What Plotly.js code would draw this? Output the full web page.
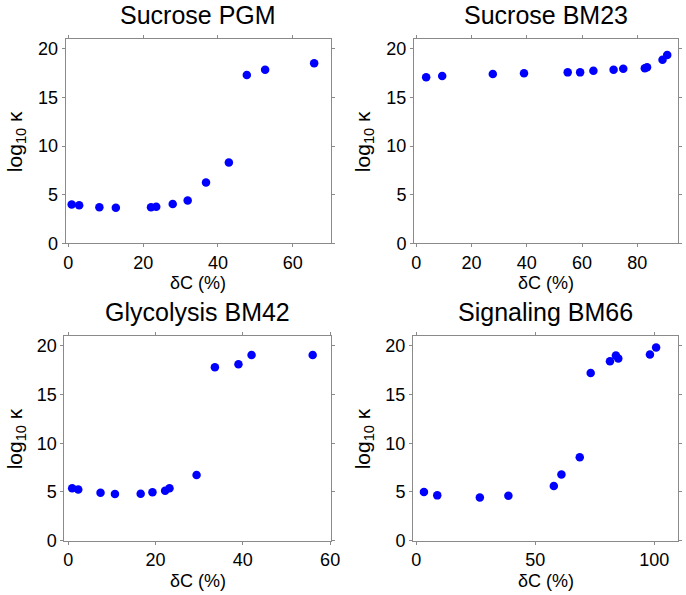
<!DOCTYPE html>
<html>
<head>
<meta charset="utf-8">
<script src="https://cdn.plot.ly/plotly-3.0.1.min.js"></script>
<style>html,body{margin:0;padding:0;background:#fff}#chart{width:686px;height:595px}</style>
</head>
<body>
<div id="chart"></div>
<script>
// Panel titles
const panelTitles = ["Sucrose PGM", "Sucrose BM23", "Glycolysis BM42", "Signaling BM66"];
const xLabel = "δC (%)";
const yLabel = "log<sub>10</sub> κ";

// Sucrose PGM
const pgmX = [0.9, 2.9, 8.3, 12.7, 22.1, 23.5, 27.9, 31.9, 36.8, 42.9, 47.7, 52.6, 65.7];
const pgmY = [4.0, 3.9, 3.7, 3.66, 3.7, 3.76, 4.03, 4.4, 6.26, 8.3, 17.3, 17.85, 18.5];

// Sucrose BM23
const bm23X = [3.6, 9.4, 27.7, 39.0, 54.8, 59.3, 64.1, 71.4, 74.9, 82.7, 83.5, 89.1, 90.8];
const bm23Y = [17.06, 17.2, 17.4, 17.47, 17.57, 17.57, 17.74, 17.85, 17.95, 18.0, 18.1, 18.87, 19.35];

// Glycolysis BM42
const bm42X = [0.9, 2.3, 7.4, 10.7, 16.6, 19.3, 22.2, 23.2, 29.4, 33.6, 39.0, 42.0, 56.0];
const bm42Y = [5.37, 5.26, 4.92, 4.79, 4.82, 4.96, 5.13, 5.37, 6.74, 17.8, 18.1, 19.04, 19.04];

// Signaling BM66
const bm66X = [3.2, 8.8, 26.7, 38.7, 57.8, 61.0, 68.7, 73.3, 81.4, 83.9, 84.9, 98.2, 100.8];
const bm66Y = [4.99, 4.65, 4.44, 4.62, 5.6, 6.8, 8.55, 17.2, 18.4, 19.0, 18.7, 19.1, 19.83];

// Axis ticks
const xTicks1 = [0, 20, 40, 60];
const xTicks2 = [0, 20, 40, 60, 80];
const xTicks3 = [0, 20, 40, 60];
const xTicks4 = [0, 50, 100];
const yTicks = [0, 5, 10, 15, 20];

const W = 686, H = 595;
const font = "Liberation Sans, Arial, Helvetica, sans-serif";
const seriesX = [pgmX, bm23X, bm42X, bm66X];
const seriesY = [pgmY, bm23Y, bm42Y, bm66Y];
const xTicksAll = [xTicks1, xTicks2, xTicks3, xTicks4];
const xRanges = [[-0.7, 70.2], [-0.8, 94.7], [-0.9, 60.2], [-1.4, 110]];
// pixel boxes [left, right, top, bottom]
const boxes = [[65.7, 331, 39, 243.3], [414, 678, 39, 243.3], [64.3, 331, 336, 540.7], [413, 678, 336, 540.7]];

const traces = [];
const layout = {
  width: W, height: H,
  margin: {l: 0, r: 0, t: 0, b: 0},
  paper_bgcolor: "#fff", plot_bgcolor: "#fff",
  showlegend: false,
  font: {family: font, size: 18, color: "#000"},
  annotations: []
};

for (let i = 0; i < 4; i++) {
  const s = i === 0 ? "" : String(i + 1);
  traces.push({
    type: "scatter", mode: "markers",
    x: seriesX[i], y: seriesY[i],
    xaxis: "x" + s, yaxis: "y" + s,
    marker: {color: "#0000ff", size: 8.5},
    hoverinfo: "skip"
  });
  const b = boxes[i];
  const common = {
    showgrid: false, zeroline: false, showline: true, mirror: "ticks",
    linecolor: "#8a8a8a", linewidth: 1,
    ticks: "outside", ticklen: 3, tickcolor: "#8a8a8a", tickwidth: 1,
    tickfont: {family: font, size: 18, color: "#000"},
    tickmode: "array", fixedrange: true
  };
  layout["xaxis" + s] = Object.assign({}, common, {
    domain: [b[0] / W, b[1] / W], range: xRanges[i],
    tickvals: xTicksAll[i], ticktext: xTicksAll[i].map(String),
    anchor: "y" + s
  });
  layout["yaxis" + s] = Object.assign({}, common, {
    domain: [1 - b[3] / H, 1 - b[2] / H], range: [0, 21],
    tickvals: yTicks, ticktext: yTicks.map(String),
    anchor: "x" + s
  });
  const cx = (b[0] + b[1]) / 2;
  // title
  layout.annotations.push({
    text: panelTitles[i], xref: "paper", yref: "paper",
    x: cx / W, y: 1 - (b[2] - 24) / H, xanchor: "center", yanchor: "middle",
    showarrow: false, font: {family: font, size: 25, color: "#000"}
  });
  // x label
  layout.annotations.push({
    text: xLabel, xref: "paper", yref: "paper",
    x: cx / W, y: 1 - (b[3] + 40) / H, xanchor: "center", yanchor: "middle",
    showarrow: false, font: {family: font, size: 18, color: "#000"}
  });
  // y label
  const ylx = i % 2 === 0 ? 16 : 364;
  layout.annotations.push({
    text: yLabel, xref: "paper", yref: "paper",
    x: ylx / W, y: 1 - ((b[2] + b[3]) / 2 + 1) / H, xanchor: "center", yanchor: "middle",
    textangle: -90,
    showarrow: false, font: {family: font, size: 21, color: "#000"}
  });
}

Plotly.newPlot("chart", traces, layout, {staticPlot: true, displayModeBar: false});
</script>
</body>
</html>
